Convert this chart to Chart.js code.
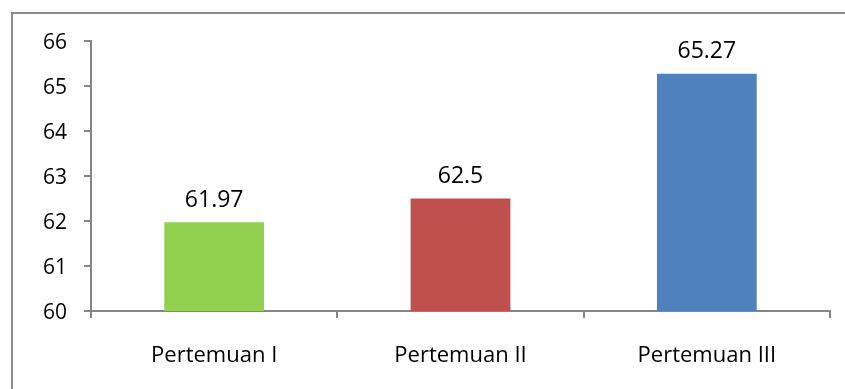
<!DOCTYPE html>
<html>
<head>
<meta charset="utf-8">
<script src="https://cdn.jsdelivr.net/npm/chart.js@4"></script>
<style>
  html, body { margin: 0; padding: 0; background: #fff; }
  #wrap { width: 845px; height: 389px; position: relative; }
</style>
</head>
<body>
<div id="wrap"><canvas id="c" width="845" height="389"></canvas></div>
<script>
const categories = ['Pertemuan I', 'Pertemuan II', 'Pertemuan III'];
const scores = [61.97, 62.5, 65.27];
const barColors = ['#92D050', '#C0504D', '#4F81BD'];
const yTicks = [60, 61, 62, 63, 64, 65, 66];

const FONT = '"Open Sans", "Liberation Sans", sans-serif';
const AXIS_GRAY = '#868686';

// Outer frame around the whole chart
const framePlugin = {
  id: 'frame',
  beforeDraw(chart) {
    const ctx = chart.ctx;
    ctx.save();
    ctx.strokeStyle = '#8c8c8c';
    ctx.lineWidth = 2;
    ctx.strokeRect(12, 13, 850, 400);
    ctx.restore();
  }
};

// Value labels above each bar
const valueLabels = {
  id: 'valueLabels',
  afterDatasetsDraw(chart) {
    const ctx = chart.ctx;
    const meta = chart.getDatasetMeta(0);
    ctx.save();
    ctx.font = '23px ' + FONT;
    ctx.fillStyle = '#000';
    ctx.textAlign = 'center';
    ctx.textBaseline = 'middle';
    meta.data.forEach((bar, i) => {
      ctx.fillText(String(scores[i]), bar.x, bar.y - 22);
    });
    ctx.restore();
  }
};

new Chart(document.getElementById('c'), {
  type: 'bar',
  data: {
    labels: categories,
    datasets: [{
      data: scores,
      backgroundColor: barColors,
      borderWidth: 0,
      categoryPercentage: 1,
      barPercentage: 0.405
    }]
  },
  options: {
    responsive: false,
    animation: false,
    devicePixelRatio: 1,
    layout: { padding: { top: 41, right: 15, left: 0, bottom: 0 } },
    plugins: { legend: { display: false }, tooltip: { enabled: false } },
    scales: {
      x: {
        grid: { offset: true, drawOnChartArea: false, drawTicks: true, tickLength: 7, color: AXIS_GRAY, lineWidth: 2 },
        border: { color: AXIS_GRAY, width: 2 },
        ticks: { color: '#000', font: { family: FONT, size: 22 }, padding: 25 },
        afterFit(scale) { scale.height = 78; }
      },
      y: {
        min: 60, max: 66,
        afterBuildTicks(scale) { scale.ticks = yTicks.map(v => ({ value: v })); },
        grid: { drawOnChartArea: false, drawTicks: true, tickLength: 7, color: AXIS_GRAY, lineWidth: 2 },
        border: { color: AXIS_GRAY, width: 2 },
        ticks: { color: '#000', font: { family: FONT, size: 21 }, padding: 17, labelOffset: 2 },
        afterFit(scale) { scale.width = 91; }
      }
    }
  },
  plugins: [framePlugin, valueLabels]
});
</script>
</body>
</html>
